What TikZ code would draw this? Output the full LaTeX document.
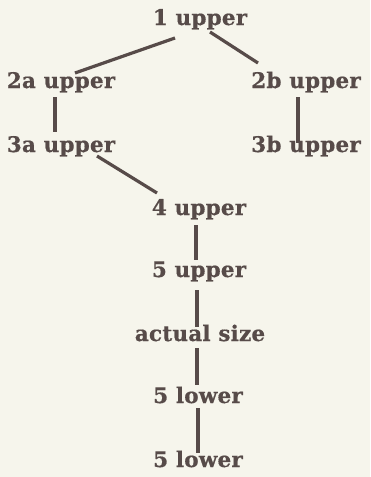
\documentclass[tikz,border=0pt]{standalone}
\usepackage{fontspec}
\setmainfont{DejaVu Serif}[BoldFont={DejaVu Serif Bold}]
\newfontfamily\labelfont{DejaVu Serif Bold}[LetterSpace=1,FakeBold=0.6]
\definecolor{paper}{HTML}{F6F5EC}
\definecolor{ink}{HTML}{574B49}
\begin{document}
\begin{tikzpicture}[x=1pt,y=-1pt,
  lbl/.style={anchor=base,inner sep=0pt,text=ink,
    font=\labelfont\fontsize{21.5}{24}\selectfont},
  link/.style={draw=ink,line width=3.2pt}]
  % page
  \fill[paper] (0,0) rectangle (370,477);
  \useasboundingbox (0,0) rectangle (370,477);
  % labels
  \node[lbl] (u1)  at (200,25)  {1 upper};
  \node[lbl] (u2a) at (61,88)   {2a upper};
  \node[lbl] (u2b) at (306,88)  {2b upper};
  \node[lbl] (u3a) at (61,152)  {3a upper};
  \node[lbl] (u3b) at (306,152) {3b upper};
  \node[lbl] (u4)  at (199,215) {4 upper};
  \node[lbl] (u5)  at (199,277) {5 upper};
  \node[lbl] (act) at (200,341) {actual size};
  \node[lbl] (l5a) at (198,403) {5 lower};
  \node[lbl] (l5b) at (198,467) {5 lower};
  % connectors
  \draw[link] ([shift={(-25,13)}]u1.base) -- ([shift={(14,-15)}]u2a.base);
  \draw[link] ([shift={(10,7)}]u1.base) -- ([shift={(-48,-25)}]u2b.base);
  \draw[link] ([shift={(-6,9)}]u2a.base) -- ([shift={(-6,-20)}]u3a.base);
  \draw[link] ([shift={(-8,9)}]u2b.base) -- ([shift={(-8,-9)}]u3b.base);
  \draw[link] ([shift={(36,4)}]u3a.base) -- ([shift={(-42,-22)}]u4.base);
  \draw[link] ([shift={(-3,10)}]u4.base) -- ([shift={(-3,-17)}]u5.base);
  \draw[link] ([shift={(-2,13)}]u5.base) -- ([shift={(-3,-14)}]act.base);
  \draw[link] ([shift={(-3,7)}]act.base) -- ([shift={(-1,-18)}]l5a.base);
  \draw[link] ([shift={(0,5)}]l5a.base) -- ([shift={(0,-14)}]l5b.base);
\end{tikzpicture}
\end{document}
